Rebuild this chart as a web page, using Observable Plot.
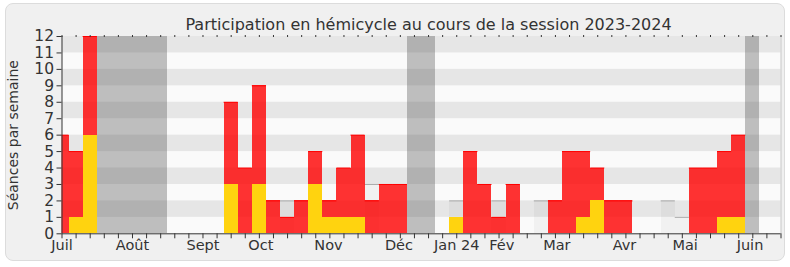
<!DOCTYPE html>
<html><head><meta charset="utf-8">
<script src="https://cdn.jsdelivr.net/npm/d3@7"></script>
<script src="https://cdn.jsdelivr.net/npm/@observablehq/plot@0.6"></script>
<style>
body{margin:0;background:#fff;}
#wrap{position:relative;width:790px;height:267px;overflow:hidden;}
#bg{position:absolute;left:5px;top:3px;width:778px;height:256px;border:1px solid #dcdcdc;border-radius:8px;background:#f0f0f0;}
#chart{position:absolute;left:0;top:0;}
</style></head><body>
<div id="wrap"><div id="bg"></div><div id="chart"></div></div>
<script>
const title = "Participation en hémicycle au cours de la session 2023-2024";
const yTitle = "Séances par semaine";
const weeks = d3.range(52);
// présences (rouge) par semaine
const presence = [6,5,12,0,0,0,0,0,0,0,0,0,8,4,9,2,1,2,5,2,4,6,2,3,3,0,0,0,0,5,3,1,3,0,0,2,5,5,4,2,2,0,0,0,0,4,4,5,6,0,0,0];
// interventions (jaune) par semaine
const interventions = [0,1,6,0,0,0,0,0,0,0,0,0,3,0,3,0,0,0,3,1,1,1,0,0,0,0,0,0,1,0,0,0,0,0,0,0,0,1,2,0,0,0,0,0,0,0,0,1,1,0,0,0];
// séances sans présence (gris clair)
const seances = [0,0,0,0,0,0,0,0,0,0,0,0,0,0,0,0,2,0,0,0,0,0,3,0,0,0,0,0,2,0,0,2,0,0,2,0,0,0,0,0,0,0,0,2,1,0,0,0,0,0,0,0];
const vacances = [3,4,5,6,7,25,26,49];
const monthLabels = ["Juil","Août","Sept","Oct","Nov","Déc","Jan 24","Fév","Mar","Avr","Mai","Juin"];
const monthWeeks = [0,5,10,14.1,18.9,23.9,28,31.2,35.1,39.9,44.2,48.8];
const yTicks = d3.range(0,13);
const stripes = [1,3,5,7,9,11];

const xMin = weeks[0], xMax = weeks[weeks.length-1];
const yMax = yTicks[yTicks.length-1];
const rows = weeks.map(i => ({week:i, presence:presence[i], interventions:interventions[i], seances:seances[i]}));
const labelMap = new Map(monthWeeks.map((w,i)=>[w, monthLabels[i]]));
const x1 = d => d.week - 0.5, x2 = d => d.week + 0.5;

const chart = Plot.plot({
  width: 790, height: 267,
  marginLeft: 61.5, marginRight: 9.5, marginTop: 36, marginBottom: 33.7,
  x: {domain: [xMin, xMax], axis: null},
  y: {domain: [0, yMax], axis: null},
  style: {background: "transparent", fontFamily: "DejaVu Sans, sans-serif", color: "#333"},
  marks: [
    Plot.frame({fill: "#fafafa"}),
    Plot.rect(stripes, {x1: () => xMin, x2: () => xMax, y1: d => d, y2: d => d + 1, fill: "#e6e6e6"}),
    Plot.rect(vacances, {x1: d => d - 0.5, x2: d => d + 0.5, y1: () => 0, y2: () => yMax, fill: "rgb(76,76,76)", fillOpacity: 0.35, clip: "frame", shapeRendering: "crispEdges"}),
    Plot.rectY(rows.filter(d => d.seances > 0), {x1, x2, y: "seances", fill: "#000", fillOpacity: 0.035, clip: "frame", shapeRendering: "crispEdges"}),
    Plot.ruleY(rows.filter(d => d.seances > 0), {x1, x2, y: "seances", stroke: "#aaa", clip: "frame"}),
    Plot.rectY(rows.filter(d => d.presence > 0), {x1, x2, y: "presence", fill: "#ff0000", fillOpacity: 0.8, clip: "frame", shapeRendering: "crispEdges"}),
    Plot.ruleY(rows.filter(d => d.presence > 0), {x1, x2, y: "presence", stroke: "#ff0000", clip: "frame"}),
    Plot.rectY(rows.filter(d => d.interventions > 0), {x1, x2, y: "interventions", fill: "#ffd30f", clip: "frame", shapeRendering: "crispEdges"}),
    Plot.ruleX([xMax], {stroke: "#c8c8c8"}),
    Plot.ruleX([xMin], {stroke: "#333"}),
    Plot.ruleY([0], {stroke: "#333"}),
    Plot.axisY({ticks: yTicks, tickSize: 5, tickPadding: 3, fontSize: 15.5, label: null, color: "#333"}),
    Plot.axisX({ticks: weeks, tickSize: 5, tickFormat: () => "", label: null, color: "#333"}),
    Plot.axisX({anchor: "top", ticks: weeks, tickSize: 2, tickFormat: () => "", label: null, color: "#333"}),
    Plot.axisX(monthWeeks, {tickSize: 0, tickPadding: 6, tickFormat: d => labelMap.get(d), fontSize: 14.5, label: null, color: "#333"}),
    Plot.text([title], {frameAnchor: "top", dx: 7, dy: -18, fontSize: 16, fill: "#333"}),
    Plot.text([yTitle], {frameAnchor: "left", textAnchor: "middle", dx: -48, rotate: -90, fontSize: 14, fill: "#333"})
  ]
});
document.getElementById("chart").appendChild(chart);
</script>
</body></html>
